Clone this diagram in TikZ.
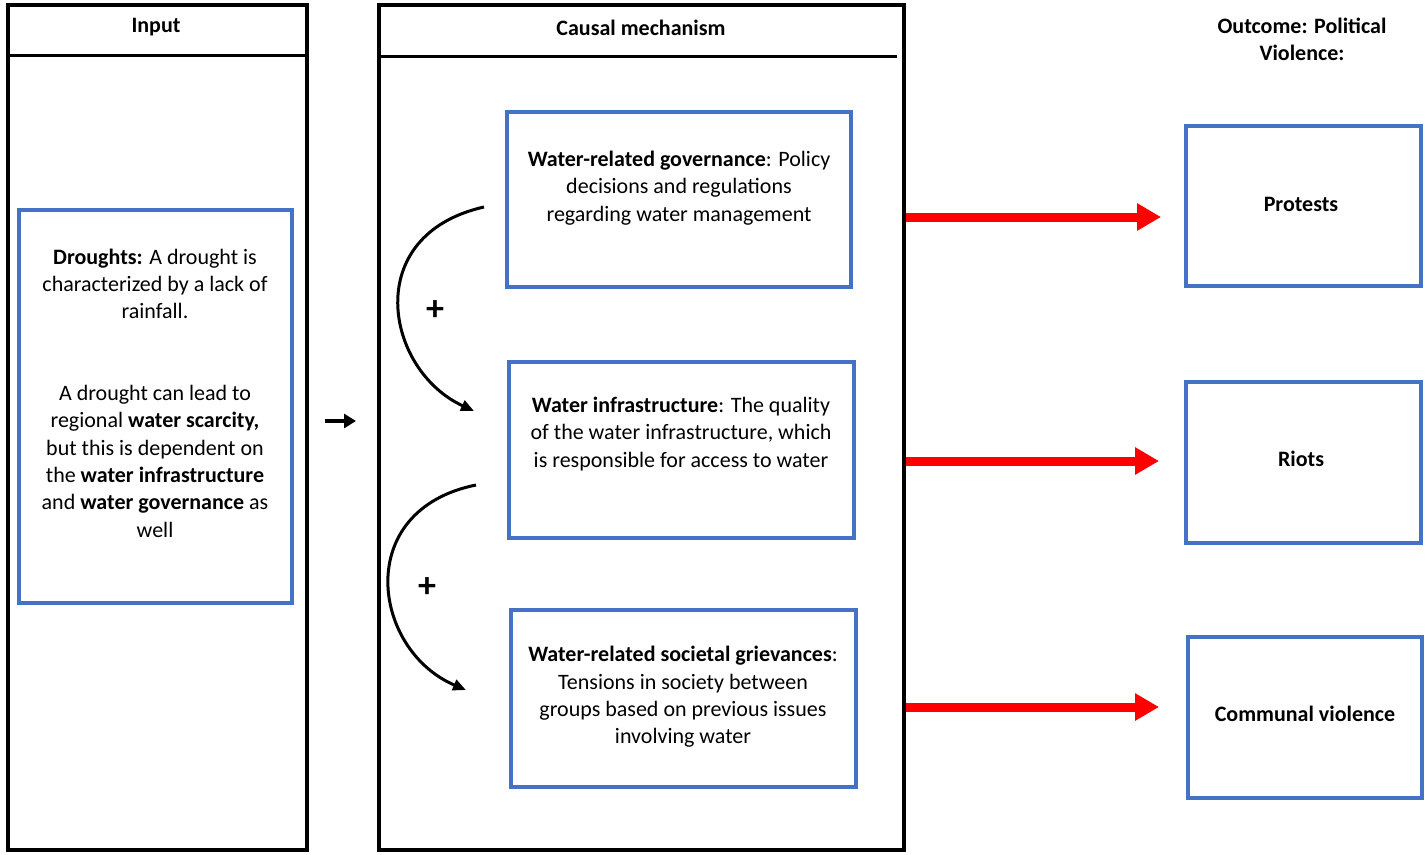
\documentclass[tikz,border=0pt]{standalone}
\usepackage{fontspec}
\setmainfont{Carlito}
\usetikzlibrary{arrows.meta}
\definecolor{boxblue}{HTML}{4472C4}
\definecolor{arrred}{HTML}{FF0000}
\tikzset{
  txt/.style={font=\fontsize{22}{27.3}\selectfont, align=center, inner sep=0pt},
  outerbox/.style={draw=black, line width=4pt, inner sep=0pt},
  bluebox/.style={draw=boxblue, line width=3.5pt, inner sep=0pt},
  hdrline/.style={line width=3pt},
  curvearrow/.style={line width=3pt, -{Triangle[length=13pt,width=11pt]}},
  redarrow/.style={draw=arrred, line width=9pt, -{Triangle[length=24pt,width=26pt]}, color=arrred},
  smallarrow/.style={line width=4.5pt, -{Triangle[length=12pt,width=14pt]}},
  plus/.style={font=\fontsize{36}{40}\selectfont\bfseries, inner sep=0pt},
}
\begin{document}
\begin{tikzpicture}[x=1pt,y=-1pt]
\useasboundingbox (0,0) rectangle (1426,854);
% outer boxes
\node[outerbox, minimum width=299pt, minimum height=845pt] (inp) at (157.5,427.5) {};
\node[outerbox, minimum width=525pt, minimum height=845pt] (cau) at (641.5,427.5) {};
\coordinate (ih1) at (8,55);
\coordinate (ih2) at (307,55);
\coordinate (ch1) at (379,56);
\coordinate (ch2) at (897,56);
\draw[hdrline] (ih1) -- (ih2);
\draw[hdrline] (ch1) -- (ch2);
\node[txt, font=\fontsize{22}{27.3}\selectfont\bfseries] (inpt) at (156,27) {Input};
\node[txt, font=\fontsize{22}{27.3}\selectfont\bfseries] (caut) at (641,28) {Causal mechanism};
\node[txt, font=\fontsize{22}{27.3}\selectfont\bfseries] (outt) at (1302,39) {Outcome: Political\\Violence:};
% input box
\node[bluebox, minimum width=273pt, minimum height=393pt] (dro) at (155.5,406.5) {};
\node[txt] (drot) at (155,393) {\textbf{Droughts:} A drought is\\characterized by a lack of\\rainfall.\\[54.6pt]A drought can lead to\\regional \textbf{water scarcity,}\\but this is dependent on\\the \textbf{water infrastructure}\\and \textbf{water governance} as\\well};
% mechanism boxes
\node[bluebox, minimum width=344pt, minimum height=175pt] (gov) at (679,199.5) {};
\node[txt] (govt) at (679,188) {\textbf{Water-related governance}: Policy\\decisions and regulations\\regarding water management};
\node[bluebox, minimum width=345pt, minimum height=176pt] (inf) at (681.5,450) {};
\node[txt] (inft) at (681,434) {\textbf{Water infrastructure}: The quality\\of the water infrastructure, which\\is responsible for access to water};
\node[bluebox, minimum width=345pt, minimum height=177pt] (soc) at (683.5,698.5) {};
\node[txt] (soct) at (683,697) {\textbf{Water-related societal grievances}:\\Tensions in society between\\groups based on previous issues\\involving water};
% outcome boxes
\node[bluebox, minimum width=235pt, minimum height=160pt] (pro) at (1303.5,206) {};
\node[txt, font=\fontsize{22}{27.3}\selectfont\bfseries] (prot) at (1301,204) {Protests};
\node[bluebox, minimum width=235pt, minimum height=161pt] (rio) at (1303.5,462.5) {};
\node[txt, font=\fontsize{22}{27.3}\selectfont\bfseries] (riot) at (1301,459) {Riots};
\node[bluebox, minimum width=234pt, minimum height=161pt] (com) at (1305,717.5) {};
\node[txt, font=\fontsize{22}{27.3}\selectfont\bfseries] (comt) at (1305,714) {Communal violence};
% small arrow between input and mechanism
\coordinate (sa1) at (325,421);
\coordinate (sa2) at (356,421);
\draw[smallarrow] (sa1) -- (sa2);
% curved arrows
\coordinate (c1s) at (484,207);
\coordinate (c1e) at (474,411);
\coordinate (c2s) at (476,485);
\coordinate (c2e) at (466,690);
\draw[curvearrow] (c1s) .. controls (360,235) and (385,370) .. (c1e);
\draw[curvearrow] (c2s) .. controls (352,510) and (372,650) .. (c2e);
\node[plus] (p1) at (435,311) {+};
\node[plus] (p2) at (427,588) {+};
% red arrows
\coordinate (r1s) at (906,217);
\coordinate (r1e) at (1161,217);
\coordinate (r2s) at (906,461);
\coordinate (r2e) at (1159,461);
\coordinate (r3s) at (906,707);
\coordinate (r3e) at (1159,707);
\draw[redarrow] (r1s) -- (r1e);
\draw[redarrow] (r2s) -- (r2e);
\draw[redarrow] (r3s) -- (r3e);
\end{tikzpicture}
\end{document}
